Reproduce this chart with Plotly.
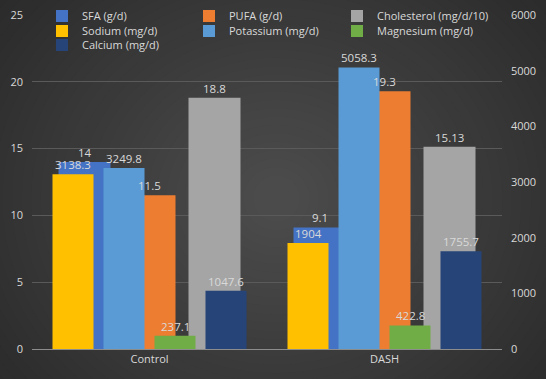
import plotly.graph_objects as go

categories = ["Control", "DASH"]
sfa = [14, 9.1]
pufa = [11.5, 19.3]
cholesterol = [18.8, 15.13]
sodium = [3138.3, 1904]
potassium = [3249.8, 5058.3]
magnesium = [237.1, 422.8]
calcium = [1047.6, 1755.7]

left_ticks = [0, 5, 10, 15, 20, 25]
right_ticks = [0, 1000, 2000, 3000, 4000, 5000, 6000]

FONT = "Open Sans"
TXT = "#d9d9d9"
lbl_font = dict(family=FONT, size=11.5, color=TXT)
xpos = list(range(len(categories)))

W, H = 546, 379
ML, MR, MT, MB = 32, 44, 15, 30
PW, PH = W - ML - MR, H - MT - MB

fig = go.Figure()

cat_px = PW / 2.0
prim_w = 52 / cat_px
prim_step = 65 / cat_px
sec_w = 41 / cat_px
sec_step = 51 / cat_px

primary = [
    ("SFA (g/d)", sfa, "#4472C4"),
    ("PUFA (g/d)", pufa, "#ED7D31"),
    ("Cholesterol (mg/d/10)", cholesterol, "#A5A5A5"),
]
secondary = [
    ("Sodium (mg/d)", sodium, "#FFC000"),
    ("Potassium (mg/d)", potassium, "#5B9BD5"),
    ("Magnesium (mg/d)", magnesium, "#70AD47"),
    ("Calcium (mg/d)", calcium, "#264478"),
]

# legend slot per series: (column, row)
legend_cols_px = [69, 216, 364]
legend_rows_px = [16, 31, 45]
slots = [(0, 0), (1, 0), (2, 0), (0, 1), (1, 1), (2, 1), (0, 2)]

annotations = []

def fmt(v):
    return str(int(v)) if float(v) == int(v) else f"{v:g}"

legend_layouts = {}
k = 0
def add_legend(idx):
    c, r = slots[idx]
    key = "legend" if idx == 0 else f"legend{idx + 1}"
    lx = (legend_cols_px[c] - 27 - ML) / PW
    ly = (H - MB - legend_rows_px[r]) / PH
    legend_layouts[key] = dict(x=lx, y=ly, xanchor="left", yanchor="middle",
                               orientation="h", bgcolor="rgba(0,0,0,0)",
                               font=dict(family=FONT, size=11, color=TXT),
                               itemwidth=30)
    return key

for i, (name, vals, col) in enumerate(primary):
    off = (i - 1) * prim_step - prim_w / 2
    fig.add_trace(go.Bar(
        name=name, x=xpos, y=vals, marker_color=col, marker_line_width=0,
        width=[prim_w] * 2, offset=[off] * 2, yaxis="y", legend=add_legend(k),
    ))
    k += 1
    for xc, v in zip(xpos, vals):
        annotations.append(dict(x=xc + off + prim_w / 2, y=v, xref="x", yref="y",
                                text=fmt(v), showarrow=False, yanchor="bottom",
                                yshift=0, font=lbl_font))

for i, (name, vals, col) in enumerate(secondary):
    off = (i - 1.5) * sec_step - sec_w / 2
    fig.add_trace(go.Bar(
        name=name, x=xpos, y=vals, marker_color=col, marker_line_width=0,
        width=[sec_w] * 2, offset=[off] * 2, yaxis="y2", legend=add_legend(k),
    ))
    k += 1
    for xc, v in zip(xpos, vals):
        annotations.append(dict(x=xc + off + sec_w / 2, y=v, xref="x", yref="y2",
                                text=fmt(v), showarrow=False, yanchor="bottom",
                                yshift=0, font=lbl_font))

# radial-ish background
shapes = []
n = 40
for j in range(n):
    t = j / (n - 1)
    c = int(round(0x27 + (0x4b - 0x27) * t))
    col = f"rgb({c},{c},{c})"
    rx = 0.85 - 0.8 * t
    ry = 1.05 - 0.98 * t
    cx, cy = 0.52, 0.45
    shapes.append(dict(type="circle", xref="paper", yref="paper",
                       x0=cx - rx, x1=cx + rx, y0=cy - ry, y1=cy + ry,
                       fillcolor=col, line_width=0, layer="below"))

fig.update_layout(
    width=W, height=H,
    margin=dict(l=ML, r=MR, t=MT, b=MB, autoexpand=False),
    paper_bgcolor="#272727", plot_bgcolor="rgba(0,0,0,0)",
    barmode="overlay",
    shapes=shapes,
    annotations=annotations,
    showlegend=True,
    xaxis=dict(showgrid=False, showline=True, linecolor="#8c8c8c", linewidth=1,
               tickvals=xpos, ticktext=categories, automargin=False,
               tickfont=dict(family=FONT, size=11, color=TXT),
               ticks="", range=[-0.5, 1.5], zeroline=False),
    yaxis=dict(range=[0, 25], tickvals=left_ticks, showgrid=True, gridcolor="#5a5a5a",
               gridwidth=1, zeroline=False, automargin=False, ticklabelstandoff=8,
               tickfont=dict(family=FONT, size=11, color=TXT), ticks=""),
    yaxis2=dict(range=[0, 6000], tickvals=right_ticks, overlaying="y", side="right",
                showgrid=False, zeroline=False, automargin=False, ticklabelstandoff=8,
                tickfont=dict(family=FONT, size=11, color=TXT), ticks=""),
    font=dict(family=FONT, color=TXT),
    **legend_layouts,
)

fig.write_html("out.html", config={"displayModeBar": False},
               post_script="document.body.style.margin='0px';")
